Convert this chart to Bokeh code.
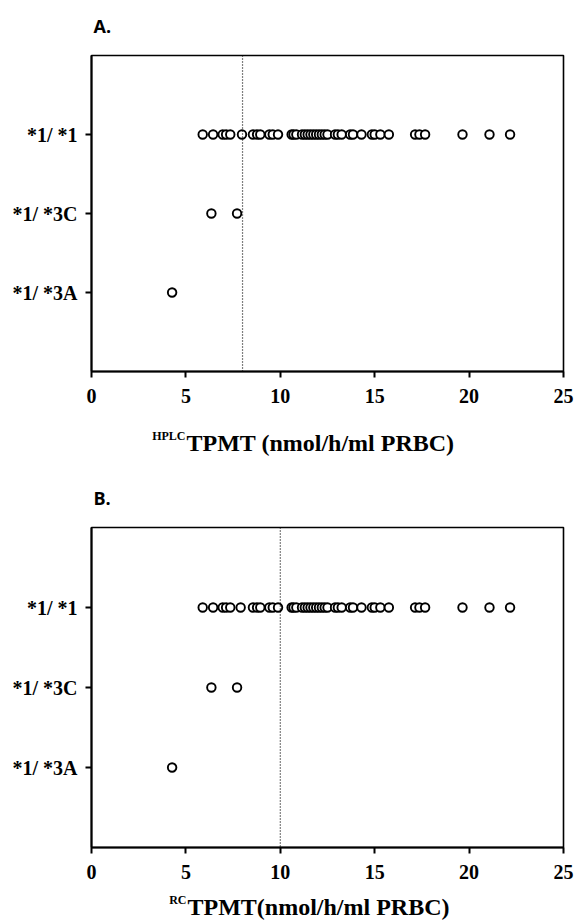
from bokeh.plotting import figure
from bokeh.models import Span, Label, FixedTicker, Range1d
from bokeh.layouts import column
from bokeh.embed import file_html
from bokeh.resources import INLINE

# ---------------- data ----------------
genotypes = ["*1/ *3A", "*1/ *3C", "*1/ *1"]
geno_pos = [1, 2, 3]

hplc_11 = [5.89, 6.44, 6.95, 7.13, 7.35, 7.97, 8.55, 8.77, 8.94, 9.42, 9.6, 9.88,
           10.6, 10.7, 10.85, 11.15, 11.3, 11.45, 11.6, 11.75, 11.9, 12.05, 12.2,
           12.35, 12.5, 12.9, 13.05, 13.25, 13.7, 13.85, 14.3, 14.85, 15.0, 15.3,
           15.75, 17.14, 17.37, 17.67, 19.65, 21.08, 22.17]
hplc_13c = [6.35, 7.71]
hplc_13a = [4.27]

rc_11 = [5.89, 6.44, 6.95, 7.13, 7.35, 7.9, 8.55, 8.77, 8.94, 9.42, 9.6, 9.88,
         10.6, 10.7, 10.85, 11.15, 11.3, 11.45, 11.6, 11.75, 11.9, 12.05, 12.2,
         12.35, 12.5, 12.9, 13.05, 13.25, 13.7, 13.85, 14.3, 14.85, 15.0, 15.3,
         15.75, 17.14, 17.37, 17.67, 19.65, 21.08, 22.17]
rc_13c = [6.35, 7.71]
rc_13a = [4.27]

x_ticks = [0, 5, 10, 15, 20, 25]
cutoff_hplc = 8
cutoff_rc = 10

SERIF = "Liberation Serif"
W = 574
LEFT = 91
FRAME_W = 472
RIGHT = W - LEFT - FRAME_W


def text_fig(h):
    # strip whose frame spans the same columns as the panels; 1 data unit = 1 px
    f = figure(frame_width=FRAME_W, frame_height=h, title=None,
               output_backend="svg", toolbar_location=None,
               x_range=Range1d(LEFT, LEFT + FRAME_W), y_range=Range1d(h, 0),
               x_axis_location=None, y_axis_location=None,
               min_border_left=LEFT, min_border_right=RIGHT, min_border_top=0,
               min_border_bottom=0)
    f.outline_line_color = None
    f.grid.visible = False
    return f


def add_text(f, x, y, text, size, font=SERIF, align="left"):
    f.add_layout(Label(x=x, y=y, text=text, text_font=font, text_font_style="bold",
                       text_font_size=size, text_color="black", text_align=align,
                       text_baseline="middle"))


def make_panel(s11, s13c, s13a, cutoff, top, height, bottom):
    p = figure(frame_width=FRAME_W, frame_height=height, title=None,
               output_backend="svg", toolbar_location=None,
               x_range=Range1d(0, 25), y_range=Range1d(0, 4),
               min_border_left=LEFT, min_border_right=RIGHT,
               min_border_top=top, min_border_bottom=bottom)
    p.grid.visible = False
    p.outline_line_color = "black"
    p.outline_line_width = 1.6
    p.outline_line_alpha = 1

    for ax in (p.xaxis[0], p.yaxis[0]):
        ax.axis_line_width = 2
        ax.major_tick_line_width = 2
        ax.major_tick_out = 6
        ax.major_tick_in = 0
        ax.minor_tick_out = 0
        ax.minor_tick_in = 0
        ax.major_label_text_font = SERIF
        ax.major_label_text_font_style = "bold"
        ax.major_label_text_font_size = "20px"
        ax.major_label_text_color = "black"

    p.xaxis.ticker = FixedTicker(ticks=x_ticks)
    p.xaxis.major_label_standoff = 11
    p.yaxis.ticker = FixedTicker(ticks=geno_pos)
    p.yaxis.major_label_overrides = {pos: g for pos, g in zip(geno_pos, genotypes)}
    p.yaxis.major_label_standoff = 8

    p.add_layout(Span(location=cutoff, dimension="height", line_color="black",
                      line_width=1.2, line_dash="1 2"))

    for xs, yv in ((s11, 3), (s13c, 2), (s13a, 1)):
        p.scatter(xs, [yv] * len(xs), marker="circle", size=8.5, fill_color="white",
                  line_color="black", line_width=1.9)
    return p


# top strip: panel letter A
top_a = text_fig(40)
add_text(top_a, 93, 25, "A.", "18px", font="Open Sans")

pa = make_panel(hplc_11, hplc_13c, hplc_13a, cutoff_hplc, 15, 316, 44)

# strip between panels: A axis title and panel letter B
mid = text_fig(97)
add_text(mid, 185, 20, "HPLC", "12px", align="right")
add_text(mid, 186, 27, "TPMT (nmol/h/ml PRBC)", "24px")
add_text(mid, 93, 82, "B.", "18px", font="Open Sans")

pb = make_panel(rc_11, rc_13c, rc_13a, cutoff_rc, 15, 320, 44)

# bottom strip: B axis title
bot = text_fig(31)
add_text(bot, 186, 8, "RC", "12px", align="right")
add_text(bot, 187, 15, "TPMT(nmol/h/ml PRBC)", "24px")

layout = column(top_a, pa, mid, pb, bot, spacing=0)
open("out.html", "w").write(file_html(layout, INLINE))
